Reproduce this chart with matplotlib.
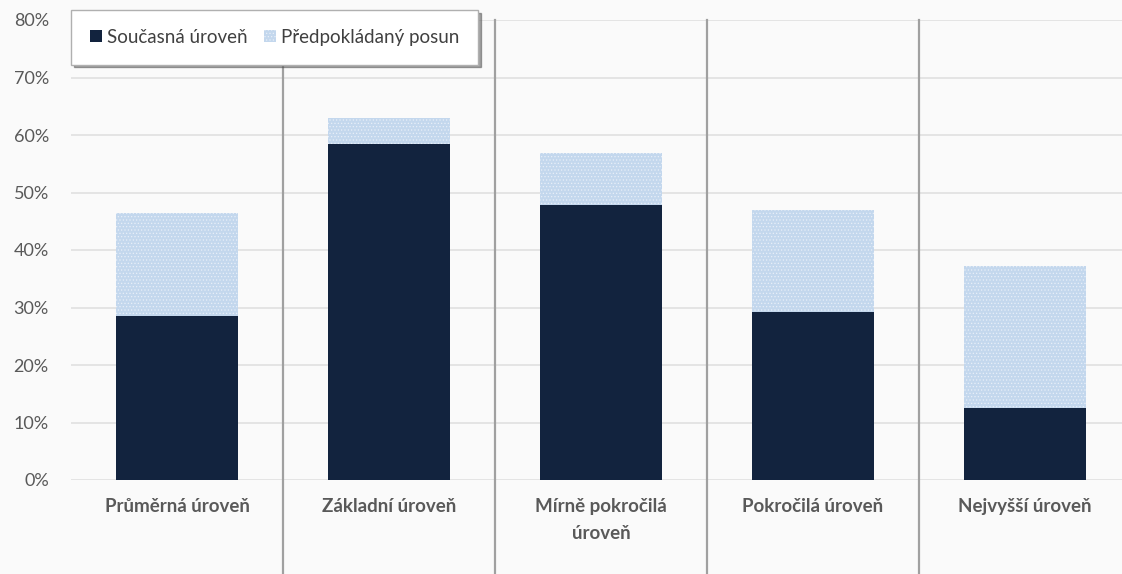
import matplotlib.pyplot as plt
import numpy as np

categories = ["Průměrná úroveň", "Základní úroveň", "Mírně pokročilá\núroveň",
              "Pokročilá úroveň", "Nejvyšší úroveň"]
current = [0.285, 0.585, 0.478, 0.292, 0.125]
total = [0.465, 0.630, 0.568, 0.470, 0.373]
shift = [t - c for t, c in zip(total, current)]
y_ticks = [0, 0.1, 0.2, 0.3, 0.4, 0.5, 0.6, 0.7, 0.8]

plt.rcParams['font.family'] = ['Lato', 'DejaVu Sans']
plt.rcParams['hatch.linewidth'] = 0.5

W, H = 1122, 574
fig = plt.figure(figsize=(W / 100, H / 100), dpi=100, facecolor='#fafafa')
ax = fig.add_axes([71 / W, 1 - 480 / H, (W - 71) / W, 460 / H])
ax.set_facecolor('#fafafa')

x = np.arange(len(categories))
ax.bar(x, current, width=0.575, color='#12233e', zorder=3, label='Současná úroveň')
ax.bar(x, shift, bottom=current, width=0.575, facecolor='#c3d7ed', edgecolor='#e8eff8',
       hatch='.....', linewidth=0, zorder=3, label='Předpokládaný posun')

ax.set_xlim(-0.5, -0.5 + (W - 71) / 212)
ax.set_ylim(0, 0.8)
ax.set_yticks(y_ticks)
ax.set_yticklabels([f"{int(round(v * 100))}%" for v in y_ticks])
ax.set_xticks(x)
ax.set_xticklabels(categories, fontweight='bold', fontsize=13.5, linespacing=1.7)
ax.tick_params(axis='both', length=0, colors='#595959')
ax.tick_params(axis='y', pad=16, labelsize=13)
ax.tick_params(axis='x', pad=13)
ax.grid(axis='y', color='#e0e0e0', linewidth=1.2, zorder=0)
for s in ax.spines.values():
    s.set_visible(False)

for xs in x[:-1] + 0.5:
    ax.axvline(xs, ymin=-0.25, ymax=1, color='#a0a0a0', linewidth=1.6,
               clip_on=False, zorder=2)

leg = ax.legend(loc='upper left', bbox_to_anchor=(0.0, 1 + 10 / 460), ncol=2, frameon=True,
                fancybox=False, shadow=True, fontsize=13.5, handlelength=0.65,
                handleheight=0.65, handletextpad=0.25, columnspacing=0.9,
                borderpad=1.0, borderaxespad=0, labelcolor='#404040')
leg.get_frame().set_edgecolor('#b0b0b0')
leg.get_frame().set_facecolor('white')
leg.set_zorder(5)

fig.savefig('out.png', dpi=100, facecolor=fig.get_facecolor())
